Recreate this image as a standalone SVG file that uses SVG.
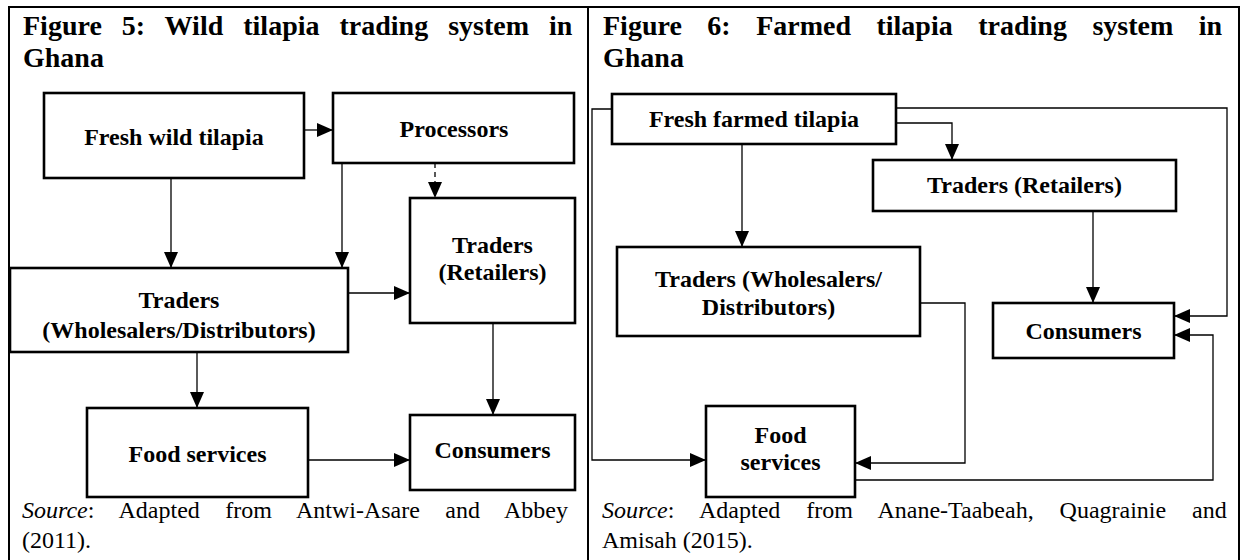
<svg xmlns="http://www.w3.org/2000/svg" width="1241" height="560" viewBox="0 0 1241 560">
<style>
text{font-family:"Liberation Serif","Times New Roman",serif;fill:#000}
.t{font-size:28px;font-weight:bold}
.b{font-size:24px;font-weight:bold;text-anchor:middle}
.s{font-size:24px}
.box{fill:#fff;stroke:#000;stroke-width:2.6}
.c{fill:none;stroke:#000;stroke-width:1.3}
.d{stroke-dasharray:5,4}
.frame{fill:none;stroke:#000;stroke-width:2}
</style>
<defs>
<marker id="ah" markerUnits="userSpaceOnUse" markerWidth="16" markerHeight="14" refX="16" refY="7" orient="auto">
<path d="M0,0 L16,7 L0,14 z" fill="#000"/>
</marker>
</defs>
<rect width="1241" height="560" fill="#fff"/>
<g id="frame">
<path class="frame" d="M9,562 V7 H1239 V562 M588,7 V562"/>
</g>
<g id="titles">
<text class="t" x="23" y="35" word-spacing="13">Figure 5: Wild tilapia trading system in</text>
<text class="t" x="23" y="67">Ghana</text>
<text class="t" x="603" y="35" word-spacing="18.5">Figure 6: Farmed tilapia trading system in</text>
<text class="t" x="603" y="67">Ghana</text>
</g>
<g id="connectors">
<line class="c" x1="304" y1="130" x2="333" y2="130" marker-end="url(#ah)"/>
<line class="c" x1="171" y1="178" x2="171" y2="268" marker-end="url(#ah)"/>
<line class="c" x1="342" y1="163" x2="342" y2="268" marker-end="url(#ah)"/>
<line class="c d" x1="435" y1="163" x2="435" y2="198" marker-end="url(#ah)"/>
<line class="c" x1="348" y1="293" x2="410" y2="293" marker-end="url(#ah)"/>
<line class="c" x1="493" y1="323" x2="493" y2="415" marker-end="url(#ah)"/>
<line class="c" x1="197" y1="352" x2="197" y2="408" marker-end="url(#ah)"/>
<line class="c" x1="308" y1="460" x2="410" y2="460" marker-end="url(#ah)"/>
<polyline class="c" points="612,109 592,109 592,460 706,460" marker-end="url(#ah)"/>
<line class="c" x1="742" y1="144" x2="742" y2="247" marker-end="url(#ah)"/>
<polyline class="c" points="896,123 952,123 952,160" marker-end="url(#ah)"/>
<polyline class="c" points="896,108 1227,108 1227,316 1174,316" marker-end="url(#ah)"/>
<line class="c" x1="1093" y1="211" x2="1093" y2="303" marker-end="url(#ah)"/>
<polyline class="c" points="920,303 965,303 965,463 855,463" marker-end="url(#ah)"/>
<polyline class="c" points="855,480 1213,480 1213,335 1174,335" marker-end="url(#ah)"/>
</g>
<g id="n-fresh-wild">
<rect class="box" x="44" y="93" width="260" height="85"/>
<text class="b" x="174" y="145">Fresh wild tilapia</text>
</g>
<g id="n-processors">
<rect class="box" x="333" y="93" width="241" height="70"/>
<text class="b" x="454" y="137">Processors</text>
</g>
<g id="n-traders-wd-left">
<rect class="box" x="10" y="268" width="338" height="84"/>
<text class="b" x="179" y="308">Traders</text>
<text class="b" x="179" y="338">(Wholesalers/Distributors)</text>
</g>
<g id="n-traders-r-left">
<rect class="box" x="410" y="198" width="165" height="125"/>
<text class="b" x="492.5" y="253">Traders</text>
<text class="b" x="492.5" y="280">(Retailers)</text>
</g>
<g id="n-food-left">
<rect class="box" x="87" y="408" width="221" height="89"/>
<text class="b" x="197.5" y="462">Food services</text>
</g>
<g id="n-consumers-left">
<rect class="box" x="410" y="415" width="165" height="75"/>
<text class="b" x="492.5" y="458">Consumers</text>
</g>
<g id="n-fresh-farmed">
<rect class="box" x="612" y="94" width="284" height="50"/>
<text class="b" x="754" y="127">Fresh farmed tilapia</text>
</g>
<g id="n-traders-r-right">
<rect class="box" x="873" y="160" width="303" height="51"/>
<text class="b" x="1024.5" y="193">Traders (Retailers)</text>
</g>
<g id="n-traders-wd-right">
<rect class="box" x="617" y="247" width="303" height="89"/>
<text class="b" x="768.5" y="287">Traders (Wholesalers/</text>
<text class="b" x="768.5" y="315">Distributors)</text>
</g>
<g id="n-consumers-right">
<rect class="box" x="993" y="303" width="181" height="55"/>
<text class="b" x="1083.5" y="339">Consumers</text>
</g>
<g id="n-food-right">
<rect class="box" x="706" y="406" width="149" height="91"/>
<text class="b" x="780.5" y="443">Food</text>
<text class="b" x="780.5" y="470">services</text>
</g>
<g id="sources">
<text class="s" x="22" y="518" word-spacing="19.4"><tspan font-style="italic">Source</tspan>: Adapted from Antwi-Asare and Abbey</text>
<text class="s" x="22" y="548">(2011).</text>
<text class="s" x="602" y="518" word-spacing="19.9"><tspan font-style="italic">Source</tspan>: Adapted from Anane-Taabeah, Quagrainie and</text>
<text class="s" x="602" y="548">Amisah (2015).</text>
</g>
</svg>
